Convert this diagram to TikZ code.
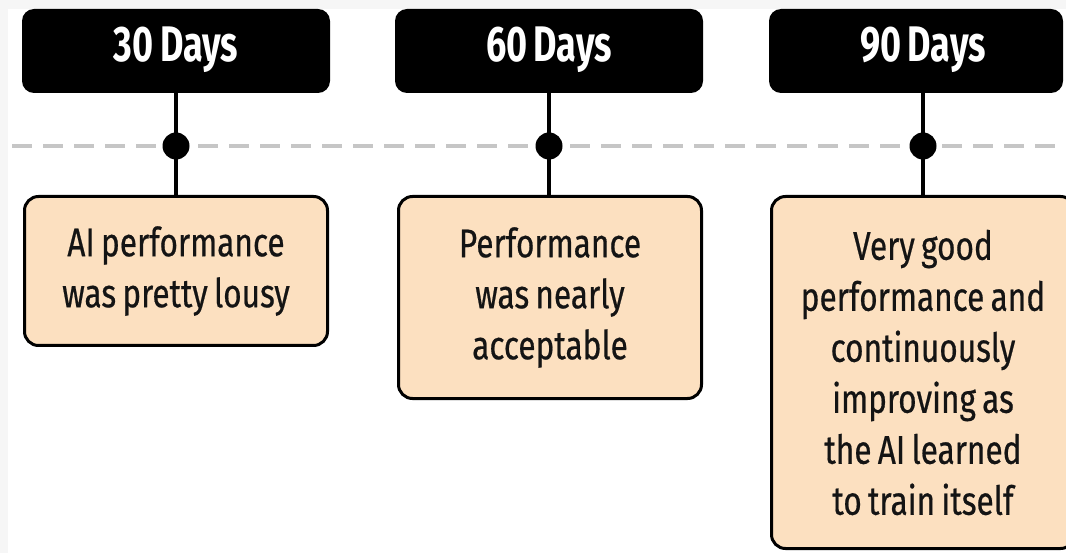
\documentclass[tikz,border=0pt]{standalone}
\usepackage{fontspec}
\setmainfont{Fira Sans}[FakeStretch=0.79, FakeBold=0.5, WordSpace=0.75]
\newfontfamily\headfont{Fira Sans}[FakeStretch=0.72, WordSpace=0.75]
\definecolor{peach}{HTML}{FCE0C0}
\definecolor{dashgray}{HTML}{C6C6C6}
\definecolor{edgegray}{HTML}{F6F6F6}
\definecolor{ink}{HTML}{141414}
\begin{document}
\begin{tikzpicture}[x=1pt,y=-1pt,
  daybox/.style={fill=black, rounded corners=12pt, minimum width=308pt,
    minimum height=84pt, inner sep=0pt},
  daylabel/.style={text=white, inner sep=0pt,
    font=\headfont\bfseries\fontsize{50}{54}\selectfont},
  notebox/.style={fill=peach, draw=black, line width=3pt, rounded corners=14pt,
    inner sep=0pt, minimum width=303pt, align=center, text=ink,
    font=\fontsize{40}{51}\selectfont},
  stem/.style={line width=4pt},
  tick/.style={circle, fill=black, inner sep=0pt, minimum size=27pt},
  track/.style={draw=dashgray, line width=4pt, dash pattern=on 20pt off 11pt}]

% page with a thin grey margin on the top and left
\fill[edgegray] (0,0) rectangle (1066,553);
\fill[white] (8,9) rectangle (1066,553);
\useasboundingbox (0,0) rectangle (1066,553);
\clip (0,0) rectangle (1066,553);

% ends of the dashed time line
\coordinate (trackL) at (12,146);
\coordinate (trackR) at (1066,146);
\draw[track] (trackL) -- (trackR);

% milestone headers
\node[daybox] (d30) at (176,51) {};
\node[daybox] (d60) at (549,51) {};
\node[daybox, minimum width=294pt] (d90) at (916,51) {};
\node[daylabel] (l30) at (176,50) {30 Days};
\node[daylabel] (l60) at (549,50) {60 Days};
\node[daylabel] (l90) at (923,50) {90 Days};

% outcome notes
\node[notebox, minimum height=149pt] (n30) at (176,271)
  {AI performance\\was pretty lousy};
\node[notebox, minimum height=202pt] (n60) at (550,297.5)
  {Performance\\was nearly\\acceptable};
\node[notebox, minimum height=352pt] (n90) at (923,372.5)
  {Very good\\performance and\\continuously\\improving as\\the AI learned\\to train itself};

% stems joining headers to notes, with a dot on the time line
\foreach \m in {30,60,90} {
  \draw[stem] (l\m.center |- d\m.south) -- (l\m.center |- n\m.north);
  \node[tick] (t\m) at (l\m.center |- trackL) {};
}
\end{tikzpicture}
\end{document}
